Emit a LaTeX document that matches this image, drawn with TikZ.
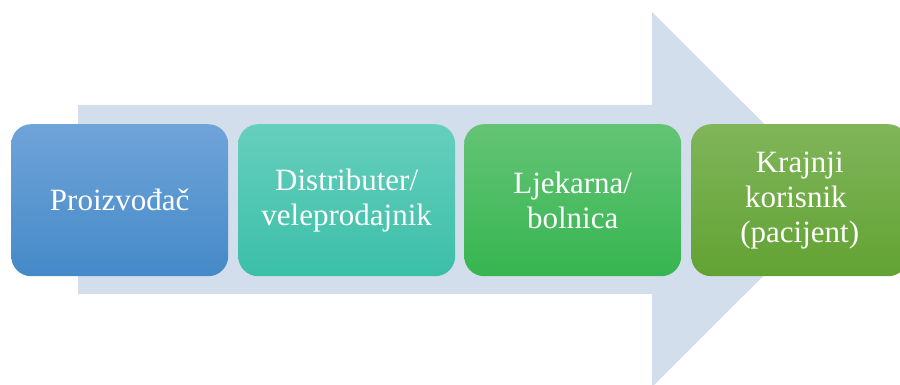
\documentclass[tikz,border=0pt]{standalone}
\usepackage{fontspec}
\setmainfont{Liberation Serif}
\definecolor{arrowbg}{HTML}{D3DEEC}
\definecolor{bOneT}{HTML}{6FA4D9}
\definecolor{bOneB}{HTML}{4589C8}
\definecolor{bTwoT}{HTML}{66CFBD}
\definecolor{bTwoB}{HTML}{3BBFA8}
\definecolor{bThrT}{HTML}{64C476}
\definecolor{bThrB}{HTML}{36B550}
\definecolor{bFouT}{HTML}{80B55A}
\definecolor{bFouB}{HTML}{62A233}
\tikzset{
  stagebox/.style={rounded corners=20pt, minimum width=217pt, minimum height=152pt,
    inner sep=0pt, align=center, text=white, anchor=north west,
    font=\fontsize{31}{35}\selectfont},
}
\begin{document}
\begin{tikzpicture}[x=1pt,y=-1pt]
\useasboundingbox (0,0) rectangle (900,385);
\begin{scope}
\clip (0,0) rectangle (900,385);
\fill[arrowbg] (78,105) -- (652,105) -- (652,12) -- (840,199.5) -- (652,387) -- (652,294) -- (78,294) -- cycle;
\node[stagebox, top color=bOneT, bottom color=bOneB] (p1) at (11,124) {Proizvođač};
\node[stagebox, top color=bTwoT, bottom color=bTwoB] (p2) at (238,124) {Distributer/\\veleprodajnik};
\node[stagebox, top color=bThrT, bottom color=bThrB] (p3) at (464,124) {Ljekarna/\\bolnica};
\node[stagebox, top color=bFouT, bottom color=bFouB] (p4) at (691,124) {Krajnji\\korisnik\hbox to 0.25em{}\\(pacijent)};
\end{scope}
\end{tikzpicture}
\end{document}
